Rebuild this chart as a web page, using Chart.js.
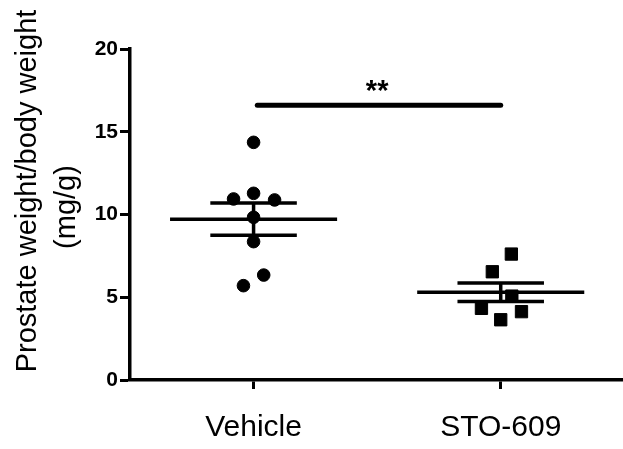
<!DOCTYPE html>
<html>
<head>
<meta charset="utf-8">
<script src="https://cdn.jsdelivr.net/npm/chart.js@4/dist/chart.umd.min.js"></script>
<style>
  html, body { margin: 0; padding: 0; background: #fff; overflow: hidden; }
  /* a little wider than the window so the x axis runs to the right edge */
  #wrap { width: 634px; height: 449px; }
</style>
</head>
<body>
<div id="wrap"><canvas id="grafikProstat"></canvas></div>
<script>
// groups on the x axis (placed at x = 1 and x = 2)
const groups = ['Vehicle', 'STO-609'];

// individual animals, prostate weight / body weight (mg/g)
const vehicleValues = [14.36, 11.28, 10.94, 10.88, 9.83, 8.36, 6.34, 5.70];
const vehicleJitter = [0, 0, -0.081, 0.085, 0, 0, 0.041, -0.041];
const stoValues = [7.61, 6.54, 5.07, 4.33, 4.13, 3.64];
const stoJitter = [0.043, -0.034, 0.045, -0.078, 0.084, 0];

// mean ± SEM per group
const groupMeans = [9.72, 5.30];
const groupSem = [0.98, 0.56];

const yTicks = [0, 5, 10, 15, 20];
const sigLevel = 16.6;
const sigLabel = '**';
const yTitle = ['Prostate weight/body weight', '(mg/g)'];

const FONT = "'Liberation Sans', Arial, sans-serif";

function points(values, jitter, center) {
  return values.map((v, i) => ({ x: center + jitter[i], y: v }));
}

function segment(x1, y1, x2, y2, width) {
  return {
    type: 'scatter',
    data: [{ x: x1, y: y1 }, { x: x2, y: y2 }],
    showLine: true,
    borderColor: '#000',
    borderWidth: width || 3.5,
    borderCapStyle: 'butt',
    pointRadius: 0,
    pointHoverRadius: 0
  };
}

// mean line, SEM whiskers and the vertical bar between them
const summaryLines = [];
groupMeans.forEach((m, i) => {
  const c = i + 1;
  const s = groupSem[i];
  summaryLines.push(segment(c - 0.338, m, c + 0.338, m));
  summaryLines.push(segment(c - 0.175, m + s, c + 0.175, m + s));
  summaryLines.push(segment(c - 0.175, m - s, c + 0.175, m - s));
  summaryLines.push(segment(c, m - s, c, m + s));
});

const sigBar = segment(1.015, sigLevel, 2.0, sigLevel, 5);
sigBar.borderCapStyle = 'round';

// y axis title and the stars above the comparison bar
const annotations = {
  id: 'annotations',
  afterDraw(chart) {
    const ctx = chart.ctx;
    const x = chart.scales.x;
    const y = chart.scales.y;
    ctx.save();
    ctx.fillStyle = '#000';
    ctx.textAlign = 'center';
    ctx.textBaseline = 'alphabetic';
    ctx.font = 'bold 29px ' + FONT;
    ctx.fillText(sigLabel, x.getPixelForValue(1.5), y.getPixelForValue(sigLevel) - 5);

    ctx.font = '29px ' + FONT;
    ctx.save();
    ctx.translate(36, 191);
    ctx.rotate(-Math.PI / 2);
    ctx.fillText(yTitle[0], 0, 0);
    ctx.restore();
    ctx.save();
    ctx.translate(75, 207);
    ctx.rotate(-Math.PI / 2);
    ctx.fillText(yTitle[1], 0, 0);
    ctx.restore();
    ctx.restore();
  }
};

new Chart(document.getElementById('grafikProstat').getContext('2d'), {
  type: 'scatter',
  data: {
    datasets: [
      {
        data: points(vehicleValues, vehicleJitter, 1),
        pointStyle: 'circle',
        pointRadius: 6.3,
        pointBorderWidth: 1,
        backgroundColor: '#000',
        borderColor: '#000'
      },
      {
        data: points(stoValues, stoJitter, 2),
        pointStyle: 'rect',
        pointRadius: 8.7,
        pointBorderWidth: 1,
        backgroundColor: '#000',
        borderColor: '#000'
      },
      ...summaryLines,
      sigBar
    ]
  },
  options: {
    responsive: true,
    maintainAspectRatio: false,
    animation: false,
    events: [],
    layout: { padding: { top: 49, right: 0, left: 0, bottom: 0 } },
    plugins: {
      legend: { display: false },
      tooltip: { enabled: false }
    },
    scales: {
      x: {
        type: 'linear',
        min: 0.5,
        max: 2.5,
        afterBuildTicks: (scale) => { scale.ticks = groups.map((g, i) => ({ value: i + 1 })); },
        afterFit: (scale) => { scale.height = 69; },
        ticks: {
          callback: (v) => groups[v - 1],
          color: '#000',
          font: { family: FONT, size: 30 },
          padding: 21,
          maxRotation: 0
        },
        border: { display: true, color: '#000', width: 3.5 },
        grid: { drawOnChartArea: false, tickLength: 9, tickWidth: 3, color: '#000' }
      },
      y: {
        min: 0,
        max: 20,
        afterBuildTicks: (scale) => { scale.ticks = yTicks.map(v => ({ value: v })); },
        afterFit: (scale) => { scale.width = 130; },
        ticks: {
          color: '#000',
          font: { family: FONT, size: 21, weight: 'bold' },
          padding: 2
        },
        border: { display: true, color: '#000', width: 3.5 },
        grid: { drawOnChartArea: false, tickLength: 10, tickWidth: 3, color: '#000' }
      }
    }
  },
  plugins: [annotations]
});
</script>
</body>
</html>
